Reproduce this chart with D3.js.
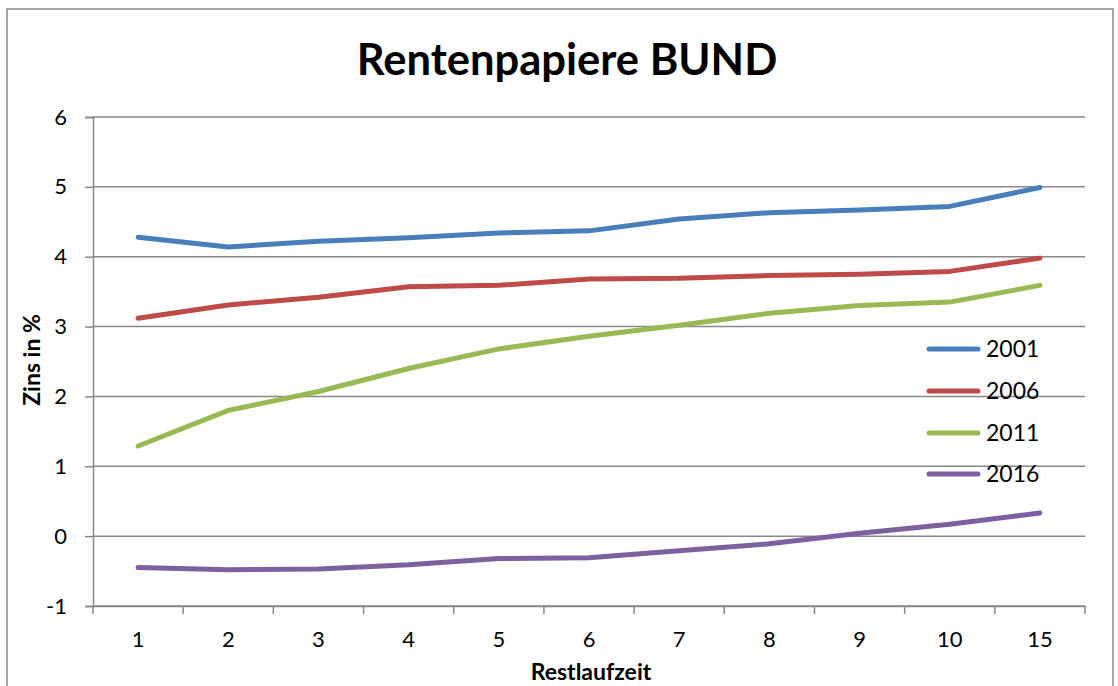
<!DOCTYPE html>
<html><head><meta charset="utf-8">
<script src="https://cdn.jsdelivr.net/npm/d3@7"></script>
<style>body{margin:0;background:#fff}svg{display:block}text{font-family:Lato,"Open Sans",sans-serif}</style>
</head><body>
<script>
const categories = ["1","2","3","4","5","6","7","8","9","10","15"];
const s2001 = [4.28,4.14,4.22,4.27,4.34,4.37,4.54,4.63,4.67,4.72,4.99];
const s2006 = [3.12,3.31,3.42,3.57,3.59,3.68,3.69,3.73,3.75,3.79,3.98];
const s2011 = [1.29,1.80,2.07,2.40,2.68,2.86,3.02,3.19,3.30,3.35,3.59];
const s2016 = [-0.45,-0.48,-0.47,-0.41,-0.32,-0.31,-0.21,-0.11,0.04,0.17,0.33];
const seriesNames = ["2001","2006","2011","2016"];
const yTicks = [-1,0,1,2,3,4,5,6];
const colors = ["#4a7ebb","#be4b48","#98b954","#7d60a0"];
const seriesData = [s2001,s2006,s2011,s2016];

const W=1118,H=686;
const svg=d3.select("body").append("svg").attr("width",W).attr("height",H);
svg.append("rect").attr("x",7).attr("y",9).attr("width",1106).attr("height",700)
  .attr("fill","#fff").attr("stroke","#8a8a8a").attr("stroke-width",1.5);

const x=d3.scaleBand().domain(categories).range([93,1085]);
const y=d3.scaleLinear().domain([-1,6]).range([606,117]);

// gridlines
svg.append("g").selectAll("line").data(yTicks).join("line")
  .attr("x1",93).attr("x2",1085).attr("y1",d=>y(d)).attr("y2",d=>y(d))
  .attr("stroke","#888").attr("stroke-width",1.5);

// y axis
const yAx=svg.append("g").attr("transform","translate(93,0)")
  .call(d3.axisLeft(y).tickValues(yTicks).tickSize(8).tickPadding(18).tickFormat(d=>String(d)));
yAx.select(".domain").attr("stroke","#888").attr("stroke-width",1.5);
yAx.selectAll(".tick line").attr("stroke","#888").attr("stroke-width",1.5);
yAx.selectAll("text").attr("font-size",22).attr("font-family","Lato").attr("fill","#000");

// x axis
const xAx=svg.append("g").attr("transform","translate(0,606)")
  .call(d3.axisBottom(x).tickSize(0).tickPadding(25));
xAx.select(".domain").attr("stroke","#888").attr("stroke-width",1.5);
xAx.selectAll("text").attr("font-size",22).attr("font-family","Lato").attr("fill","#000");
// category boundary ticks
const bounds=categories.map(c=>x(c)).concat([x.range()[1]]);
svg.append("g").selectAll("line").data(bounds).join("line")
  .attr("x1",d=>d).attr("x2",d=>d).attr("y1",606).attr("y2",614)
  .attr("stroke","#888").attr("stroke-width",1.5);

// lines
const line=d3.line().x((d,i)=>x(categories[i])+x.bandwidth()/2).y(d=>y(d));
svg.append("g").selectAll("path").data(seriesData).join("path")
  .attr("d",line).attr("fill","none").attr("stroke",(d,i)=>colors[i])
  .attr("stroke-width",5).attr("stroke-linecap","round").attr("stroke-linejoin","round");

// title
svg.append("text").attr("x",567).attr("y",75).attr("text-anchor","middle")
  .attr("font-size",43.5).attr("font-weight","bold").text("Rentenpapiere BUND");
// axis titles
svg.append("text").attr("x",591).attr("y",680).attr("text-anchor","middle")
  .attr("font-size",23).attr("font-weight","bold").text("Restlaufzeit");
svg.append("text").attr("transform","translate(40,360) rotate(-90)").attr("text-anchor","middle")
  .attr("font-size",23).attr("font-weight","bold").text("Zins in %");

// legend
const legY=[349,391,433,474];
const lg=svg.append("g").selectAll("g").data(seriesNames).join("g")
  .attr("transform",(d,i)=>`translate(0,${legY[i]})`);
lg.append("line").attr("x1",929).attr("x2",978).attr("y1",0).attr("y2",0)
  .attr("stroke",(d,i)=>colors[i]).attr("stroke-width",5).attr("stroke-linecap","round");
lg.append("text").attr("x",986).attr("y",8).attr("font-size",23).text(d=>d);
</script>
</body></html>
